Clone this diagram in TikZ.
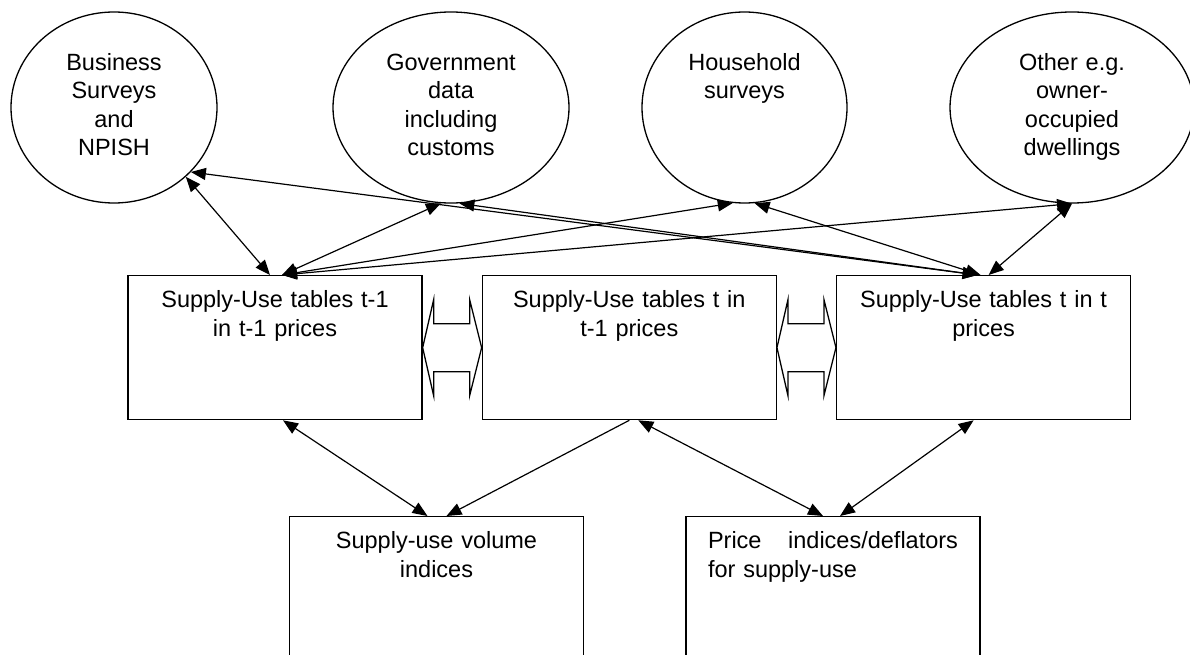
\documentclass[tikz,border=0pt]{standalone}
\usepackage{fontspec}
\setmainfont{Liberation Sans}
\usetikzlibrary{arrows.meta, positioning, calc, shapes.geometric}

\begin{document}
\begin{tikzpicture}[x=1pt, y=-1pt, font=\fontsize{23.5}{28.5}\selectfont,
      src/.style={draw, ellipse, line width=1.3pt, inner sep=0pt, align=center, text width=134pt,
                  text height=20pt, text depth=94pt, minimum height=191pt},
      box/.style={draw, line width=1.3pt, inner xsep=22pt, inner ysep=0pt, text width=250pt,
                  align=center, text height=32pt, text depth=112pt, anchor=north},
      link/.style={line width=1.2pt, >={Triangle[length=15pt, width=12pt]}}]
    \clip (0,0) rectangle (1190,655);
    % data sources
    \node[src, minimum width=206pt] (bus) at (114,107.5) {Business\\Surveys\\and\\NPISH};
    \node[src, minimum width=236pt] (gov) at (451,107.5) {Government\\data\\including\\customs};
    \node[src, minimum width=205pt] (hh) at (744.5,107.5) {Household\\surveys};
    \node[src, minimum width=244pt] (oth) at (1072,107.5) {Other e.g.\\owner-\\occupied\\dwellings};
    % supply-use tables
    \node[box] (sut1) at (275,275) {Supply-Use tables t-1\\in t-1 prices};
    \node[box, right=59pt of sut1] (sut2) {Supply-Use tables t in\\t-1 prices};
    \node[box, right=59pt of sut2] (sut3) {Supply-Use tables t in t\\prices};
    \node[box] (vol) at (436.5,516) {Supply-use volume\\indices};
    \node[box, align=left] (price) at (833,516) {Price\hfill indices/deflators\\for supply-use};
    % block arrows between the tables
    \foreach \a in {sut1, sut2}
      \draw[line width=1.3pt] (\a.east) -- ++(11,-48) -- ++(0,24) -- ++(36,0) -- ++(0,-24)
        -- ++(12,48) -- ++(-12,48) -- ++(0,-24) -- ++(-36,0) -- ++(0,24) -- cycle;
    % sources to tables
    \draw[link, <->] (bus.-44) -- ([xshift=-5pt]sut1.north);
    \draw[link, <->] (gov.-96) -- ([xshift=7pt]sut1.north);
    \draw[link, <->] (hh.-97) -- ([xshift=7pt]sut1.north);
    \draw[link, <->] (oth.-90) -- ([xshift=7pt]sut1.north);
    \draw[link, <->] (bus.-40) -- ([xshift=-6pt]sut3.north);
    \draw[link, <->] (gov.-85) -- ([xshift=-6pt]sut3.north);
    \draw[link, <->] (hh.-84) -- ([xshift=-3pt]sut3.north);
    \draw[link, <->] (oth.-90) -- ([xshift=5pt]sut3.north);
    % tables to indices
    \draw[link, <->] ([xshift=8pt]sut1.south) -- ([xshift=-9pt]vol.north);
    \draw[link, ->] (sut2.south) -- ([xshift=10pt]vol.north);
    \draw[link, <->] ([xshift=9pt]sut2.south) -- ([xshift=-10pt]price.north);
    \draw[link, <->] ([xshift=-10pt]sut3.south) -- ([xshift=7pt]price.north);
  \end{tikzpicture}
\end{document}
